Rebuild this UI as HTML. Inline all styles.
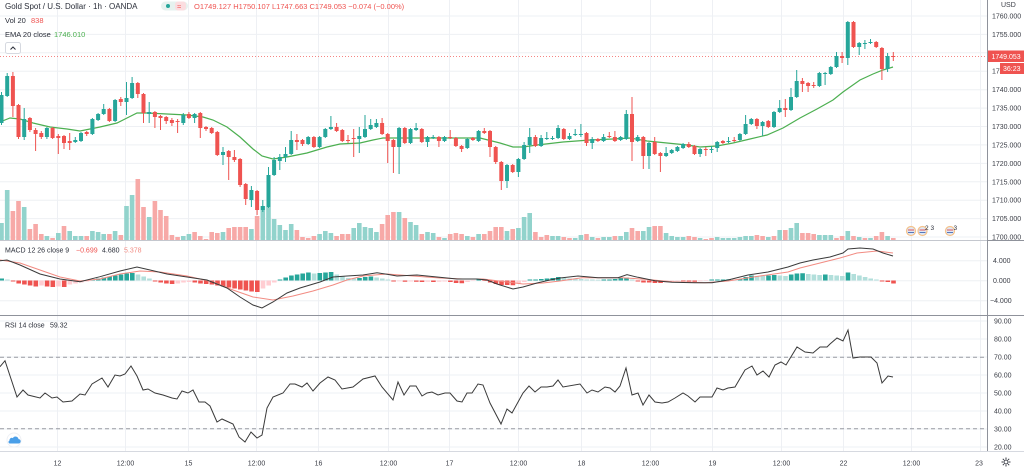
<!DOCTYPE html>
<html><head><meta charset="utf-8"><style>
html,body{margin:0;padding:0;background:#fff;width:1024px;height:468px;overflow:hidden}
svg{display:block}
text{font-family:"Liberation Sans",sans-serif}
</style></head><body>
<svg width="1024" height="468" viewBox="0 0 1024 468" xmlns="http://www.w3.org/2000/svg">
<rect width="1024" height="468" fill="#fff"/>
<!-- grid -->
<g stroke="#eef0f4" stroke-width="1">
<path d="M57.5 0V451M125.5 0V451M188.5 0V451M256.5 0V451M318.5 0V451M388.5 0V451M449.5 0V451M518.5 0V451M581.5 0V451M650.5 0V451M712.5 0V451M781.5 0V451M843.5 0V451M911.5 0V451M980.5 0V451"/>
<path d="M0 16H987M0 34.4H987M0 52.8H987M0 71.2H987M0 89.7H987M0 108.1H987M0 126.5H987M0 144.9H987M0 163.4H987M0 181.8H987M0 200.2H987M0 218.6H987M0 237H987"/>
<path d="M0 260.7H987M0 280.7H987M0 300.7H987"/>
<path d="M0 321H987M0 339H987M0 357H987M0 375H987M0 393H987M0 411H987M0 429H987M0 447H987"/>
</g>
<!-- volume -->
<path fill="#92d3cc" d="M-0.8 223h4.6V240h-4.6zM4.9 190h4.6V240h-4.6zM21.9 207h4.6V240h-4.6zM44.6 236h4.6V240h-4.6zM56 233h4.6V240h-4.6zM67.4 231h4.6V240h-4.6zM73 236h4.6V240h-4.6zM78.7 236h4.6V240h-4.6zM90.1 231h4.6V240h-4.6zM95.8 232h4.6V240h-4.6zM101.4 234h4.6V240h-4.6zM112.8 231h4.6V240h-4.6zM124.2 206h4.6V240h-4.6zM129.8 195h4.6V240h-4.6zM146.9 217h4.6V240h-4.6zM181 236h4.6V240h-4.6zM186.6 234h4.6V240h-4.6zM220.7 232h4.6V240h-4.6zM249.1 229h4.6V240h-4.6zM260.5 206h4.6V240h-4.6zM266.2 207h4.6V240h-4.6zM271.8 219h4.6V240h-4.6zM277.5 225h4.6V240h-4.6zM283.2 230h4.6V240h-4.6zM288.9 224h4.6V240h-4.6zM317.3 234h4.6V240h-4.6zM323 231h4.6V240h-4.6zM328.6 233h4.6V240h-4.6zM351.4 228h4.6V240h-4.6zM357 223h4.6V240h-4.6zM362.7 227h4.6V240h-4.6zM368.4 228h4.6V240h-4.6zM374.1 232h4.6V240h-4.6zM396.8 212h4.6V240h-4.6zM408.2 222h4.6V240h-4.6zM413.8 225h4.6V240h-4.6zM425.2 232h4.6V240h-4.6zM430.9 233h4.6V240h-4.6zM442.2 238h4.6V240h-4.6zM465 236h4.6V240h-4.6zM476.3 234h4.6V240h-4.6zM504.7 231h4.6V240h-4.6zM516.1 228h4.6V240h-4.6zM521.8 217h4.6V240h-4.6zM527.4 213h4.6V240h-4.6zM550.2 236h4.6V240h-4.6zM555.8 236h4.6V240h-4.6zM572.9 238h4.6V240h-4.6zM578.6 235h4.6V240h-4.6zM589.9 237h4.6V240h-4.6zM601.3 237h4.6V240h-4.6zM607 237h4.6V240h-4.6zM618.3 236h4.6V240h-4.6zM624 232h4.6V240h-4.6zM641 231h4.6V240h-4.6zM646.7 227h4.6V240h-4.6zM663.8 233h4.6V240h-4.6zM669.4 236h4.6V240h-4.6zM675.1 237h4.6V240h-4.6zM680.8 237h4.6V240h-4.6zM697.8 238h4.6V240h-4.6zM714.9 237h4.6V240h-4.6zM720.6 238h4.6V240h-4.6zM726.2 238h4.6V240h-4.6zM731.9 238h4.6V240h-4.6zM737.6 237h4.6V240h-4.6zM743.3 236h4.6V240h-4.6zM749 236h4.6V240h-4.6zM766 237h4.6V240h-4.6zM777.4 230h4.6V240h-4.6zM788.7 228h4.6V240h-4.6zM794.4 223h4.6V240h-4.6zM817.1 235h4.6V240h-4.6zM822.8 235h4.6V240h-4.6zM828.5 235h4.6V240h-4.6zM845.5 231h4.6V240h-4.6zM856.9 237h4.6V240h-4.6zM868.2 238h4.6V240h-4.6zM885.3 236h4.6V240h-4.6z"/>
<path fill="#f7a9a7" d="M10.6 211h4.6V240h-4.6zM16.2 201h4.6V240h-4.6zM27.6 229h4.6V240h-4.6zM33.3 224h4.6V240h-4.6zM39 234h4.6V240h-4.6zM50.3 238h4.6V240h-4.6zM61.7 226h4.6V240h-4.6zM84.4 236h4.6V240h-4.6zM107.1 234h4.6V240h-4.6zM118.5 235h4.6V240h-4.6zM135.5 179h4.6V240h-4.6zM141.2 207h4.6V240h-4.6zM152.6 201h4.6V240h-4.6zM158.2 210h4.6V240h-4.6zM163.9 216h4.6V240h-4.6zM169.6 235h4.6V240h-4.6zM175.3 237h4.6V240h-4.6zM192.3 232h4.6V240h-4.6zM198 236h4.6V240h-4.6zM203.7 239h4.6V240h-4.6zM209.4 232h4.6V240h-4.6zM215 233h4.6V240h-4.6zM226.4 228h4.6V240h-4.6zM232.1 227h4.6V240h-4.6zM237.8 227h4.6V240h-4.6zM243.4 227h4.6V240h-4.6zM254.8 216h4.6V240h-4.6zM294.6 230h4.6V240h-4.6zM300.2 237h4.6V240h-4.6zM305.9 238h4.6V240h-4.6zM311.6 236h4.6V240h-4.6zM334.3 236h4.6V240h-4.6zM340 234h4.6V240h-4.6zM345.7 234h4.6V240h-4.6zM379.8 224h4.6V240h-4.6zM385.4 215h4.6V240h-4.6zM391.1 212h4.6V240h-4.6zM402.5 218h4.6V240h-4.6zM419.5 234h4.6V240h-4.6zM436.6 237h4.6V240h-4.6zM447.9 234h4.6V240h-4.6zM453.6 233h4.6V240h-4.6zM459.3 234h4.6V240h-4.6zM470.6 237h4.6V240h-4.6zM482 234h4.6V240h-4.6zM487.7 231h4.6V240h-4.6zM493.4 227h4.6V240h-4.6zM499 227h4.6V240h-4.6zM510.4 229h4.6V240h-4.6zM533.1 232h4.6V240h-4.6zM538.8 237h4.6V240h-4.6zM544.5 235h4.6V240h-4.6zM561.5 237h4.6V240h-4.6zM567.2 238h4.6V240h-4.6zM584.2 234h4.6V240h-4.6zM595.6 238h4.6V240h-4.6zM612.6 236h4.6V240h-4.6zM629.7 228h4.6V240h-4.6zM635.4 231h4.6V240h-4.6zM652.4 226h4.6V240h-4.6zM658.1 226h4.6V240h-4.6zM686.5 236h4.6V240h-4.6zM692.2 237h4.6V240h-4.6zM703.5 239h4.6V240h-4.6zM709.2 238h4.6V240h-4.6zM754.6 235h4.6V240h-4.6zM760.3 236h4.6V240h-4.6zM771.7 236h4.6V240h-4.6zM783 230h4.6V240h-4.6zM800.1 233h4.6V240h-4.6zM805.8 233h4.6V240h-4.6zM811.4 234h4.6V240h-4.6zM834.2 238h4.6V240h-4.6zM839.8 236h4.6V240h-4.6zM851.2 236h4.6V240h-4.6zM862.6 238h4.6V240h-4.6zM873.9 236h4.6V240h-4.6zM879.6 232h4.6V240h-4.6zM891 238h4.6V240h-4.6z"/>
<!-- current price line -->
<path d="M0 56.5H987" stroke="#ef5350" stroke-opacity="0.7" stroke-dasharray="1,2" stroke-width="1"/>
<!-- EMA -->
<polyline fill="none" stroke="#4caf50" stroke-width="1.2" points="0,122 10,118 20,119 33,123 50,127 67,129 80,131 90,129 100,127 117,123 127,118 137,113 147,113 167,114 187,115 203,117 213,120 227,127 240,137 253,149 262,156 273,159 287,157 307,153 327,147 340,144 360,143 373,140 383,138 407,138 440,138 480,138 500,143 513,147 523,147 537,145 563,142 590,140 613,139 630,138 647,141 667,143 687,145 700,147 717,146 733,143 750,139 767,135 783,128 800,118 817,109 833,100 843,92 860,80 873,74 883,70 893,67"/>
<!-- candles green -->
<path stroke="#26a69a" stroke-width="1" fill="none" d="M1.5 92V125M7.2 73V97M24.2 108V140M46.9 127V139M75.3 137V143M81 132V142M92.4 118V135M98.1 113V121M103.7 104V115M115.1 99V122M126.5 82V115M132.1 77V99M149.2 102V123M183.3 113V125M194.6 113V123M223 147V165M251.4 186V207M262.8 200V212M268.5 167V208M274.1 157V176M279.8 154V170M285.5 147V162M291.2 131V155M308.2 136V145M319.6 136V148M325.3 128V138M330.9 116V130M359.3 127V153M365 115V138M370.7 119V130M376.4 119V128M399.1 127V174M410.5 128V144M416.1 123V131M427.5 136V147M433.2 135V139M444.5 136V142M467.3 138V149M478.6 130V142M507 164V188M518.4 158V177M524.1 142V160M529.7 128V153M541.1 135V147M546.8 132V140M552.5 136V140M558.1 125V139M569.5 133V140M575.2 129V136M580.9 124V137M592.2 137V149M603.6 134V142M620.6 136V141M626.3 110V140M637.7 135V142M649 142V169M666.1 147V157M671.7 149V154M677.4 146V152M683.1 143V149M700.1 148V157M711.5 146V153M717.2 141V152M728.5 137V143M739.9 133V141M745.6 115V135M751.3 118V125M762.6 121V136M774 111V128M779.7 100V113M791 88V111M796.7 70V98M819.4 72V87M825.1 72V85M830.8 66V75M836.5 52V68M847.8 21V65M859.2 42V55M864.9 40V49M870.5 39V44M887.6 53V72"/>
<path fill="#26a69a" d="M-0.5 95h4V123h-4zM5.2 76h4V96h-4zM22.2 119h4V137h-4zM44.9 128h4V137h-4zM73.3 140h4V142h-4zM79 133h4V141h-4zM90.4 119h4V134h-4zM96.1 114h4V120h-4zM101.7 109h4V114h-4zM113.1 100h4V121h-4zM124.5 98h4V102h-4zM130.1 83h4V98h-4zM147.2 112h4V114h-4zM181.3 115h4V123h-4zM192.6 114h4V118h-4zM221 152h4V155h-4zM249.4 190h4V200h-4zM260.8 206h4V210h-4zM266.5 175h4V207h-4zM272.1 160h4V175h-4zM277.8 157h4V161h-4zM283.5 154h4V157h-4zM289.2 140h4V154h-4zM306.2 137h4V144h-4zM317.6 137h4V147h-4zM323.3 129h4V137h-4zM328.9 127h4V129h-4zM357.3 136h4V139h-4zM363 129h4V137h-4zM368.7 125h4V129h-4zM374.4 123h4V127h-4zM397.1 128h4V147h-4zM408.5 129h4V143h-4zM414.1 128h4V130h-4zM425.5 137h4V142h-4zM431.2 137h4V138h-4zM442.5 137h4V141h-4zM465.3 139h4V148h-4zM476.6 131h4V141h-4zM505 165h4V181h-4zM516.4 159h4V172h-4zM522.1 145h4V159h-4zM527.7 137h4V145h-4zM539.1 138h4V146h-4zM544.8 138h4V139h-4zM550.5 138h4V139h-4zM556.1 128h4V138h-4zM567.5 136h4V139h-4zM573.2 134h4V135h-4zM578.9 134h4V135h-4zM590.2 139h4V143h-4zM601.6 137h4V141h-4zM618.6 137h4V140h-4zM624.3 114h4V139h-4zM635.7 137h4V141h-4zM647 143h4V156h-4zM664.1 153h4V156h-4zM669.7 150h4V153h-4zM675.4 147h4V151h-4zM681.1 144h4V148h-4zM698.1 149h4V154h-4zM709.5 149h4V150h-4zM715.2 142h4V148h-4zM726.5 141h4V142h-4zM737.9 134h4V140h-4zM743.6 124h4V134h-4zM749.3 119h4V124h-4zM760.6 122h4V126h-4zM772 112h4V127h-4zM777.7 108h4V112h-4zM789 97h4V110h-4zM794.7 81h4V97h-4zM817.4 73h4V86h-4zM823.1 73h4V74h-4zM828.8 67h4V74h-4zM834.5 56h4V67h-4zM845.8 22h4V58h-4zM857.2 43h4V47h-4zM862.9 43h4V44h-4zM868.5 42h4V43h-4zM885.6 56h4V69h-4z"/>
<!-- candles red -->
<path stroke="#ef5350" stroke-width="1" fill="none" d="M12.9 72V117M18.5 104V139M29.9 117V132M35.6 128V151M41.3 131V139M52.6 127V139M58.3 134V154M64 135V149M69.7 133V150M86.7 131V136M109.4 108V122M120.8 97V106M137.8 82V98M143.5 93V123M154.9 111V128M160.5 115V130M166.2 116V124M171.9 118V126M177.6 119V133M188.9 112V119M200.3 112V138M206 126V131M211.7 127V134M217.3 131V156M228.7 150V180M234.4 150V162M240.1 158V187M245.7 183V205M257.1 190V215M296.9 134V150M302.5 139V146M313.9 136V148M336.6 123V132M342.3 129V142M348 135V143M353.7 129V157M382.1 118V135M387.7 133V163M393.4 139V173M404.8 127V144M421.8 128V143M438.9 136V147M450.2 130V139M455.9 137V147M461.6 145V152M472.9 137V141M484.3 128V134M490 130V157M495.7 146V164M501.3 161V190M512.7 164V173M535.4 135V147M563.8 128V140M586.5 132V146M597.9 138V142M609.3 132V138M614.9 131V142M632 97V161M643.3 136V169M654.7 137V155M660.4 152V172M688.8 142V148M694.5 145V155M705.8 147V156M722.9 140V144M734.2 137V142M756.9 118V129M768.3 120V128M785.3 99V117M802.4 78V92M808.1 82V92M813.7 82V88M842.1 52V63M853.5 21V48M876.2 41V48M881.9 47V80M893.3 52V61"/>
<path fill="#ef5350" d="M10.9 76h4V106h-4zM16.5 105h4V137h-4zM27.9 118h4V130h-4zM33.6 130h4V134h-4zM39.3 133h4V137h-4zM50.6 128h4V138h-4zM56.3 136h4V138h-4zM62 136h4V143h-4zM67.7 141h4V143h-4zM84.7 132h4V134h-4zM107.4 109h4V121h-4zM118.8 99h4V102h-4zM135.8 83h4V94h-4zM141.5 94h4V113h-4zM152.9 112h4V117h-4zM158.5 116h4V118h-4zM164.2 117h4V121h-4zM169.9 120h4V123h-4zM175.6 121h4V122h-4zM186.9 114h4V118h-4zM198.3 113h4V128h-4zM204 127h4V129h-4zM209.7 128h4V133h-4zM215.3 132h4V155h-4zM226.7 151h4V157h-4zM232.4 157h4V160h-4zM238.1 159h4V185h-4zM243.7 184h4V199h-4zM255.1 191h4V210h-4zM294.9 140h4V142h-4zM300.5 140h4V144h-4zM311.9 137h4V147h-4zM334.6 127h4V131h-4zM340.3 130h4V141h-4zM346 140h4V141h-4zM351.7 138h4V139h-4zM380.1 123h4V134h-4zM385.7 134h4V141h-4zM391.4 140h4V147h-4zM402.8 128h4V143h-4zM419.8 129h4V142h-4zM436.9 137h4V141h-4zM448.2 137h4V138h-4zM453.9 138h4V146h-4zM459.6 146h4V149h-4zM470.9 138h4V140h-4zM482.3 131h4V133h-4zM488 131h4V147h-4zM493.7 147h4V162h-4zM499.3 162h4V181h-4zM510.7 165h4V172h-4zM533.4 137h4V146h-4zM561.8 129h4V139h-4zM584.5 133h4V143h-4zM595.9 139h4V141h-4zM607.3 136h4V137h-4zM612.9 137h4V141h-4zM630 114h4V142h-4zM641.3 137h4V156h-4zM652.7 142h4V154h-4zM658.4 153h4V156h-4zM686.8 144h4V147h-4zM692.5 146h4V154h-4zM703.8 149h4V150h-4zM720.9 141h4V143h-4zM732.2 140h4V141h-4zM754.9 119h4V126h-4zM766.3 121h4V127h-4zM783.3 108h4V110h-4zM800.4 81h4V84h-4zM806.1 83h4V86h-4zM811.7 85h4V86h-4zM840.1 56h4V58h-4zM851.5 22h4V47h-4zM874.2 42h4V47h-4zM879.9 48h4V69h-4zM891.3 56h4V57h-4z"/>
<!-- event icons -->
<g>
<circle cx="911" cy="231" r="4.5" fill="#dfe8f5" stroke="#f5c28a" stroke-width="1.2"/>
<circle cx="922.5" cy="231" r="4.5" fill="#dfe8f5" stroke="#f5c28a" stroke-width="1.2"/>
<circle cx="950" cy="231" r="4.5" fill="#dfe8f5" stroke="#f5c28a" stroke-width="1.2"/>
<path d="M908 230h6M919.5 230h6M947 230h6" stroke="#e05555" stroke-width="1"/>
<path d="M908 232.5h6M919.5 232.5h6M947 232.5h6" stroke="#5577bb" stroke-width="1"/>
<text x="925" y="230" font-size="6.5" fill="#2a2e39">2</text>
<text x="930.5" y="230" font-size="6.5" fill="#2a2e39">3</text>
<text x="953.5" y="230" font-size="6.5" fill="#2a2e39">3</text>
</g>
<!-- MACD histogram -->
<path fill="#26a69a" d="M-0.6 278.5h4.6V280.5h-4.6zM90.3 279.5h4.6V280.5h-4.6zM96 278.5h4.6V280.5h-4.6zM101.6 277.5h4.6V280.5h-4.6zM107.3 276.5h4.6V280.5h-4.6zM113 275.5h4.6V280.5h-4.6zM118.7 274.5h4.6V280.5h-4.6zM124.4 273.5h4.6V280.5h-4.6zM130 273h4.6V280.5h-4.6zM277.7 279.5h4.6V280.5h-4.6zM283.4 277.5h4.6V280.5h-4.6zM289.1 275.5h4.6V280.5h-4.6zM294.8 274.5h4.6V280.5h-4.6zM300.4 273.5h4.6V280.5h-4.6zM306.1 272.5h4.6V280.5h-4.6zM317.5 273h4.6V280.5h-4.6zM323.2 272.5h4.6V280.5h-4.6zM328.8 272h4.6V280.5h-4.6zM357.2 278h4.6V280.5h-4.6zM362.9 277h4.6V280.5h-4.6zM368.6 276.5h4.6V280.5h-4.6zM476.5 279.5h4.6V280.5h-4.6zM527.6 279.5h4.6V280.5h-4.6zM533.3 279.5h4.6V280.5h-4.6zM539 279h4.6V280.5h-4.6zM544.7 278.5h4.6V280.5h-4.6zM550.4 278h4.6V280.5h-4.6zM556 277h4.6V280.5h-4.6zM601.5 279.5h4.6V280.5h-4.6zM607.2 279.5h4.6V280.5h-4.6zM612.8 279h4.6V280.5h-4.6zM618.5 278h4.6V280.5h-4.6zM624.2 277.5h4.6V280.5h-4.6zM709.4 279.5h4.6V280.5h-4.6zM715.1 279.5h4.6V280.5h-4.6zM720.8 279.5h4.6V280.5h-4.6zM726.4 279.3h4.6V280.5h-4.6zM737.8 279h4.6V280.5h-4.6zM743.5 277h4.6V280.5h-4.6zM749.2 275.5h4.6V280.5h-4.6zM766.2 275.5h4.6V280.5h-4.6zM771.9 275h4.6V280.5h-4.6zM788.9 274.5h4.6V280.5h-4.6zM794.6 273.5h4.6V280.5h-4.6zM800.3 273.3h4.6V280.5h-4.6zM823 274.5h4.6V280.5h-4.6zM845.7 272.5h4.6V280.5h-4.6z"/>
<path fill="#b2dfdb" d="M5.1 279.5h4.6V280.5h-4.6zM135.7 274.5h4.6V280.5h-4.6zM141.4 276.5h4.6V280.5h-4.6zM147.1 278.5h4.6V280.5h-4.6zM311.8 273.5h4.6V280.5h-4.6zM334.5 274.5h4.6V280.5h-4.6zM340.2 276.5h4.6V280.5h-4.6zM345.9 278h4.6V280.5h-4.6zM351.6 278.5h4.6V280.5h-4.6zM374.3 277.5h4.6V280.5h-4.6zM380 278.5h4.6V280.5h-4.6zM385.6 279.5h4.6V280.5h-4.6zM561.7 278h4.6V280.5h-4.6zM567.4 278.5h4.6V280.5h-4.6zM573.1 278.7h4.6V280.5h-4.6zM578.8 279h4.6V280.5h-4.6zM584.4 279.5h4.6V280.5h-4.6zM590.1 279.5h4.6V280.5h-4.6zM595.8 279.7h4.6V280.5h-4.6zM629.9 279.5h4.6V280.5h-4.6zM732.1 279.5h4.6V280.5h-4.6zM754.8 276h4.6V280.5h-4.6zM760.5 276h4.6V280.5h-4.6zM777.6 275.5h4.6V280.5h-4.6zM783.2 276h4.6V280.5h-4.6zM806 274h4.6V280.5h-4.6zM811.6 274.5h4.6V280.5h-4.6zM817.3 275h4.6V280.5h-4.6zM828.7 275h4.6V280.5h-4.6zM834.4 275.5h4.6V280.5h-4.6zM840 276h4.6V280.5h-4.6zM851.4 274h4.6V280.5h-4.6zM857.1 275.5h4.6V280.5h-4.6zM862.8 277h4.6V280.5h-4.6zM868.4 278.5h4.6V280.5h-4.6zM874.1 279.5h4.6V280.5h-4.6z"/>
<path fill="#ef5350" d="M10.8 280.5h4.6V281.5h-4.6zM16.4 280.5h4.6V283.5h-4.6zM22.1 280.5h4.6V284.5h-4.6zM27.8 280.5h4.6V285.5h-4.6zM33.5 280.5h4.6V286.5h-4.6zM44.8 280.5h4.6V286.5h-4.6zM50.5 280.5h4.6V287h-4.6zM61.9 280.5h4.6V287h-4.6zM152.8 280.5h4.6V281.5h-4.6zM158.4 280.5h4.6V282.5h-4.6zM164.1 280.5h4.6V283.5h-4.6zM169.8 280.5h4.6V284h-4.6zM192.5 280.5h4.6V282.5h-4.6zM198.2 280.5h4.6V283.5h-4.6zM203.9 280.5h4.6V284h-4.6zM209.6 280.5h4.6V284.5h-4.6zM215.2 280.5h4.6V285.5h-4.6zM220.9 280.5h4.6V286.5h-4.6zM226.6 280.5h4.6V287.5h-4.6zM232.3 280.5h4.6V288.5h-4.6zM238 280.5h4.6V289.5h-4.6zM243.6 280.5h4.6V290.5h-4.6zM249.3 280.5h4.6V291.5h-4.6zM255 280.5h4.6V292h-4.6zM391.3 280.5h4.6V281.5h-4.6zM402.7 280.5h4.6V281.7h-4.6zM414 280.5h4.6V281.7h-4.6zM419.7 280.5h4.6V282h-4.6zM431.1 280.5h4.6V282h-4.6zM448.1 280.5h4.6V282h-4.6zM453.8 280.5h4.6V283h-4.6zM459.5 280.5h4.6V283.3h-4.6zM482.2 280.5h4.6V281h-4.6zM487.9 280.5h4.6V282.5h-4.6zM493.6 280.5h4.6V284h-4.6zM499.2 280.5h4.6V285h-4.6zM504.9 280.5h4.6V285h-4.6zM510.6 280.5h4.6V285.3h-4.6zM635.6 280.5h4.6V281.5h-4.6zM641.2 280.5h4.6V282.5h-4.6zM646.9 280.5h4.6V282.5h-4.6zM652.6 280.5h4.6V283h-4.6zM658.3 280.5h4.6V283h-4.6zM681 280.5h4.6V281.3h-4.6zM686.7 280.5h4.6V281.5h-4.6zM692.4 280.5h4.6V281.7h-4.6zM879.8 280.5h4.6V281.5h-4.6zM885.5 280.5h4.6V282h-4.6zM891.2 280.5h4.6V283.5h-4.6z"/>
<path fill="#ffcdd2" d="M39.2 280.5h4.6V285.5h-4.6zM56.2 280.5h4.6V286.5h-4.6zM67.6 280.5h4.6V284.5h-4.6zM73.2 280.5h4.6V283.5h-4.6zM78.9 280.5h4.6V282.5h-4.6zM84.6 280.5h4.6V281.5h-4.6zM175.5 280.5h4.6V283.5h-4.6zM181.2 280.5h4.6V282.5h-4.6zM186.8 280.5h4.6V282h-4.6zM260.7 280.5h4.6V288.5h-4.6zM266.4 280.5h4.6V285.5h-4.6zM272 280.5h4.6V282.5h-4.6zM397 280.5h4.6V281.3h-4.6zM408.4 280.5h4.6V281.5h-4.6zM425.4 280.5h4.6V281.7h-4.6zM436.8 280.5h4.6V281.8h-4.6zM442.4 280.5h4.6V281.5h-4.6zM465.2 280.5h4.6V282h-4.6zM470.8 280.5h4.6V281h-4.6zM516.3 280.5h4.6V283.5h-4.6zM522 280.5h4.6V282h-4.6zM664 280.5h4.6V282.5h-4.6zM669.6 280.5h4.6V281.5h-4.6zM675.3 280.5h4.6V281h-4.6zM698 280.5h4.6V281.3h-4.6zM703.7 280.5h4.6V281h-4.6z"/>
<!-- MACD lines -->
<polyline fill="none" stroke="#f28b82" stroke-width="1" points="0,260 20,263 40,270 60,277 80,281 100,279 120,274 140,271 160,272 187,276 213,282 233,290 253,297 273,300 293,296 313,291 333,285 347,280 363,276 387,274 413,276 440,278 463,279 483,279 507,282 523,284 543,283 560,281 582,277.7 622,277.7 645,279.3 672,281.7 705,282.7 728,281 755,276.7 788,272 800,268 820,263 840,258 857,253 877,251 893,253"/>
<polyline fill="none" stroke="#3a3a3a" stroke-width="1" points="0,260.7 7,260 20,265 40,274 60,279 80,281.7 100,276.7 120,271 137,267 150,270 167,274 187,277 207,280 227,288 240,297 253,305 262,308 273,302 287,293 300,288 320,282 333,277 347,276 363,275 377,272.7 387,274.3 397,276 417,275 437,277 457,279 477,279 487,280 497,284 513,289 523,287 537,283 550,280 560,278 578,276 598,277.7 618,277.7 627,274.7 638,277.3 655,280.7 672,282.3 695,282.7 712,282.7 728,280 748,275 768,272 788,267 800,263 813,260 830,257 843,253 848,249 860,248 873,249 883,253 893,256"/>
<!-- RSI -->
<path d="M0 357.3H987M0 428.7H987" stroke="#9598a1" stroke-width="1" stroke-dasharray="4,3"/>
<polyline fill="none" stroke="#3a3a3a" stroke-width="1" points="0,366.7 5,360.7 17,397 23,390 28,395 40,398 45,393 52,398 57,397 63,402 72,401 80,394 85,395 92,384 102,378 108,387 115,375 120,376 125,374 131,366 137,376 143,390 148,389 155,393 163,395 172,398 177,399 182,391 188,393 193,390 199,402 205,402 210,406 217,422 222,419 233,424 239,437 245,442 251,432 257,438 262,435 267,408 273,397 283,393 290,384 295,384 302,387 307,383 313,391 320,383 328,377 335,380 342,389 353,387 363,379 375,376 382,387 393,400 398,382 404,395 410,386 416,386 422,396 427,393 432,392 438,395 445,393 450,393 457,401 462,402 467,393 472,393 478,384 483,385 490,403 501,424 507,409 512,413 523,393 529,386 535,392 541,387 547,387 553,386 558,380 563,387 580,384 587,393 592,390 598,392 605,387 610,388 615,392 620,386 626,368 632,395 638,393 643,405 649,395 655,402 662,403 668,402 675,398 683,393 688,396 695,402 700,397 712,397 717,388 723,390 728,388 735,387 745,370 752,366 757,375 763,371 769,377 775,365 781,362 786,365 797,347 805,352 813,353 820,347 827,347 830,344 837,338 843,341 848,330 853,358 860,357 871,357 877,363 882,383 888,376 893,377"/>
<!-- separators -->
<path d="M0 240.5H987" stroke="#c4c7ce" stroke-width="1"/>
<g stroke="#8f929b" stroke-width="1">
<path d="M987 240.5H1024M0 315.5H1024M987.5 0V451"/>
</g>
<path d="M0 451.5H1024" stroke="#d6d9e0" stroke-width="1"/>
<!-- legends -->
<text x="5" y="9" font-size="8" fill="#2a2e39">Gold Spot / U.S. Dollar · 1h · OANDA</text>
<rect x="161" y="1.5" width="27" height="9" rx="4.5" fill="#e6f2ef"/>
<circle cx="168" cy="6" r="2" fill="#26a69a"/>
<rect x="175" y="1.5" width="11" height="9" rx="3" fill="#fbdde0"/>
<text x="177" y="9" font-size="7.5" fill="#ef5350">≈</text>
<text x="194" y="9" font-size="7.5" fill="#ef5350">O1749.127 H1750.107 L1747.663 C1749.053 −0.074 (−0.00%)</text>
<text x="5" y="23" font-size="7.5" fill="#2a2e39">Vol 20</text>
<text x="31" y="23" font-size="7.5" fill="#ef5350">838</text>
<text x="5" y="37" font-size="7.5" fill="#2a2e39">EMA 20 close</text>
<text x="54" y="37" font-size="7.5" fill="#4caf50">1746.010</text>
<rect x="5.5" y="42.5" width="15" height="11" rx="2" fill="#fff" stroke="#d6d9e0"/>
<path d="M10.5 49.5l2.5-2.5 2.5 2.5" fill="none" stroke="#2a2e39" stroke-width="1"/>
<text x="5" y="252.5" font-size="7" fill="#2a2e39">MACD 12 26 close 9</text>
<text x="76" y="252.5" font-size="7" fill="#ef5350">−0.699</text>
<text x="102" y="252.5" font-size="7" fill="#2a2e39">4.680</text>
<text x="124" y="252.5" font-size="7" fill="#f28b82">5.378</text>
<text x="5" y="327.5" font-size="7" fill="#2a2e39">RSI 14 close</text>
<text x="50" y="327.5" font-size="7" fill="#2a2e39">59.32</text>
<!-- cloud icon -->
<circle cx="14" cy="440" r="7" fill="#fff" stroke="#eef0f4"/>
<path d="M9.5 443.5h9a2.2 2.2 0 0 0 0-4.4 3 3 0 0 0-5.6-1 2.3 2.3 0 0 0-3.4 2.4 1.6 1.6 0 0 0 0 3z" fill="#4a9fe8"/>
<!-- price axis -->
<g font-size="7" fill="#3a3d46">
<text x="1001" y="7">USD</text>
<text x="992" y="18.5">1760.000</text>
<text x="992" y="36.9">1755.000</text>
<text x="992" y="73.7">1745.000</text>
<text x="992" y="92.2">1740.000</text>
<text x="992" y="110.6">1735.000</text>
<text x="992" y="129">1730.000</text>
<text x="992" y="147.4">1725.000</text>
<text x="992" y="165.9">1720.000</text>
<text x="992" y="184.3">1715.000</text>
<text x="992" y="202.7">1710.000</text>
<text x="992" y="221.1">1705.000</text>
<text x="992" y="239.3">1700.000</text>
<text x="993" y="263.2">4.000</text>
<text x="993" y="283.2">0.000</text>
<text x="990" y="303.2">−4.000</text>
<text x="994" y="323.5">90.00</text>
<text x="994" y="341.5">80.00</text>
<text x="994" y="359.5">70.00</text>
<text x="994" y="377.5">60.00</text>
<text x="994" y="395.5">50.00</text>
<text x="994" y="413.5">40.00</text>
<text x="994" y="431.5">30.00</text>
<text x="994" y="449.5">20.00</text>
</g>
<rect x="988" y="50.5" width="36" height="11.5" fill="#ef5350"/>
<text x="991.5" y="59" font-size="7" fill="#fff">1749.053</text>
<rect x="1000" y="63" width="24" height="11" fill="#ef5350"/>
<text x="1003" y="71" font-size="7" fill="#fff">36:23</text>
<!-- time axis -->
<g font-size="7" fill="#3a3d46" text-anchor="middle">
<text x="57.5" y="465.5">12</text>
<text x="125.5" y="465.5">12:00</text>
<text x="188.5" y="465.5">15</text>
<text x="256.5" y="465.5">12:00</text>
<text x="318.5" y="465.5">16</text>
<text x="388.5" y="465.5">12:00</text>
<text x="449.5" y="465.5">17</text>
<text x="518.5" y="465.5">12:00</text>
<text x="581.5" y="465.5">18</text>
<text x="650.5" y="465.5">12:00</text>
<text x="712.5" y="465.5">19</text>
<text x="781.5" y="465.5">12:00</text>
<text x="843.5" y="465.5">22</text>
<text x="911.5" y="465.5">12:00</text>
<text x="979" y="465.5">23</text>
</g>
<!-- gear -->
<g transform="translate(1006,462)" fill="none" stroke="#3a3d46" stroke-width="1">
<circle r="2"/>
<path d="M0 -4.5V-3M0 3V4.5M-4.5 0H-3M3 0H4.5M-3.2 -3.2L-2.1 -2.1M2.1 2.1L3.2 3.2M-3.2 3.2L-2.1 2.1M2.1 -2.1L3.2 -3.2"/>
</g>
</svg>
</body></html>
